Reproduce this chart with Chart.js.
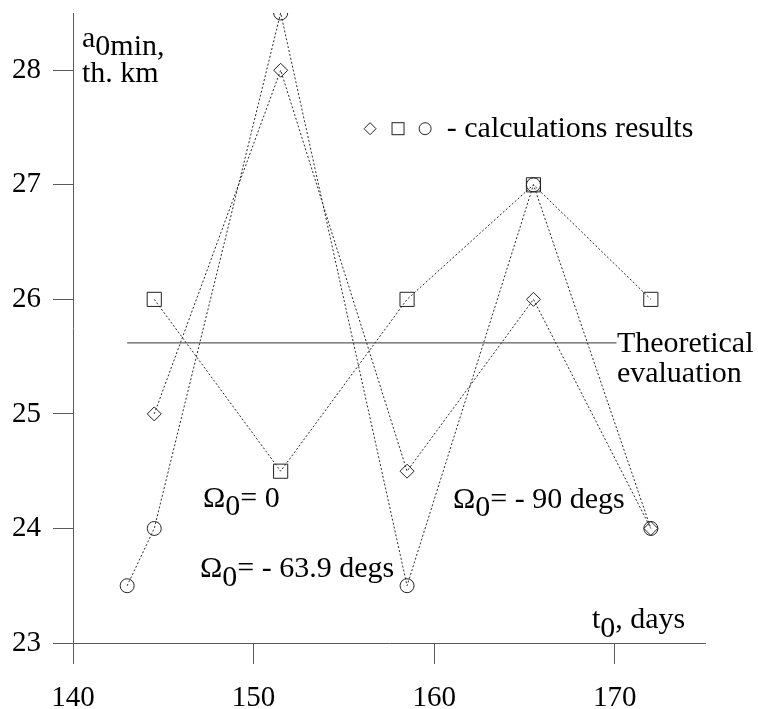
<!DOCTYPE html>
<html>
<head>
<meta charset="utf-8">
<title>a0min vs t0</title>
<script src="https://cdn.jsdelivr.net/npm/chart.js@4/dist/chart.umd.min.js"></script>
<style>
  html, body { margin: 0; padding: 0; background: #fff; }
  #wrap { width: 758px; height: 709px; }
</style>
</head>
<body>
<div id="wrap"><canvas id="grafica" width="758" height="709"></canvas></div>
<script>
/* ── Datos ── */
const tDias      = [144.5, 151.5, 158.5, 165.5, 172];        // diamantes y cuadrados
const tDiasCirc  = [143, 144.5, 151.5, 158.5, 165.5, 172];   // círculos
const valRombo   = [25, 28, 24.5, 26, 24];
const valCuadro  = [26, 24.5, 26, 27, 26];
const valCirculo = [23.5, 24, 28.5, 23.5, 27, 24];
const tTeorico   = [143, 170.1];
const valTeorico = [25.62, 25.62];
const ticksX = [140, 150, 160, 170];
const ticksY = [23, 24, 25, 26, 27, 28];

const FUENTE = "'Liberation Serif', 'Times New Roman', serif";
const GRIS_EJE = '#5a5a5a';

function puntos(xs, ys) {
    return xs.map((x, i) => ({ x: x, y: ys[i] }));
}

// texto con partes desplazadas (subíndices)
function textoPartes(ctx, x, y, partes) {
    let cx = x;
    partes.forEach(p => {
        ctx.fillText(p[0], cx, y + (p[1] || 0));
        cx += ctx.measureText(p[0]).width;
    });
}

const anotaciones = {
    id: 'anotaciones',
    afterDraw(chart) {
        const ctx = chart.ctx;
        const sx = chart.scales.x, sy = chart.scales.y;
        const px = v => sx.getPixelForValue(v);
        const py = v => sy.getPixelForValue(v);
        ctx.save();
        ctx.fillStyle = '#000';
        ctx.textBaseline = 'alphabetic';
        ctx.textAlign = 'left';
        ctx.font = '30px ' + FUENTE;

        // título del eje y
        textoPartes(ctx, px(140.5), py(28.2), [['a', 0], ['0min,', 8]]);
        ctx.fillText('th. km', px(140.5), py(27.9));

        // título del eje x
        textoPartes(ctx, px(168.74), py(23.13), [['t', 0], ['0', 9], [', days', 0]]);

        // evaluación teórica
        ctx.fillText('Theoretical', px(170.12), py(25.54));
        ctx.fillText('evaluation', px(170.12), py(25.28));

        // etiquetas de las series
        textoPartes(ctx, px(147.2), py(24.19), [['\u03A9', 0], ['0', 8], ['= 0', 0]]);
        textoPartes(ctx, px(147.03), py(23.58), [['\u03A9', 0], ['0', 9], ['= - 63.9 degs', 0]]);
        textoPartes(ctx, px(161.04), py(24.18), [['\u03A9', 0], ['0', 8], ['= - 90 degs', 0]]);

        // leyenda de marcadores
        const ly = py(27.49);
        ctx.strokeStyle = '#222';
        ctx.lineWidth = 1;
        let cx = px(156.45);
        ctx.beginPath();
        ctx.moveTo(cx - 6, ly); ctx.lineTo(cx, ly - 6); ctx.lineTo(cx + 6, ly); ctx.lineTo(cx, ly + 6);
        ctx.closePath(); ctx.stroke();
        cx = px(158.0);
        ctx.strokeRect(cx - 6, ly - 6, 12, 12);
        cx = px(159.5);
        ctx.beginPath(); ctx.arc(cx, ly, 6, 0, Math.PI * 2); ctx.stroke();
        ctx.fillText('- calculations results', px(160.7), py(27.42));
        ctx.restore();
    }
};

const serieComun = {
    showLine: true,
    borderColor: '#2a2a2a',
    borderWidth: 1,
    borderDash: [2, 2],
    pointBackgroundColor: 'rgba(0,0,0,0)',
    pointBorderColor: '#222',
    pointBorderWidth: 1,
    tension: 0,
    fill: false
};

new Chart(document.getElementById('grafica'), {
    type: 'scatter',
    data: {
        datasets: [
            Object.assign({}, serieComun, {
                label: 'teorico',
                data: puntos(tTeorico, valTeorico),
                borderDash: [],
                borderColor: '#333',
                pointRadius: 0
            }),
            Object.assign({}, serieComun, {
                label: 'cuadros',
                data: puntos(tDias, valCuadro),
                pointStyle: 'rect',
                pointRadius: 10
            }),
            Object.assign({}, serieComun, {
                label: 'rombos',
                data: puntos(tDias, valRombo),
                pointStyle: 'rectRot',
                pointRadius: 7
            }),
            Object.assign({}, serieComun, {
                label: 'circulos',
                data: puntos(tDiasCirc, valCirculo),
                pointStyle: 'circle',
                pointRadius: 7
            })
        ]
    },
    options: {
        responsive: false,
        animation: false,
        events: [],
        layout: { padding: { top: 13, right: 53, left: 0, bottom: 0 } },
        plugins: {
            legend: { display: false },
            tooltip: { enabled: false }
        },
        scales: {
            x: {
                type: 'linear',
                min: 140,
                max: 175,
                afterBuildTicks: s => { s.ticks = ticksX.map(v => ({ value: v })); },
                afterFit: s => { s.height = 66; s.paddingLeft = 0; s.paddingRight = 0; },
                grid: { drawOnChartArea: false, drawTicks: true, tickLength: 21, color: GRIS_EJE, lineWidth: 1 },
                border: { display: true, color: GRIS_EJE, width: 1 },
                ticks: { color: '#000', font: { family: FUENTE, size: 29 }, padding: 17, maxRotation: 0 }
            },
            y: {
                type: 'linear',
                min: 23,
                max: 28.5,
                afterBuildTicks: s => { s.ticks = ticksY.map(v => ({ value: v })); },
                afterFit: s => { s.width = 73; s.paddingTop = 0; s.paddingBottom = 0; },
                grid: { drawOnChartArea: false, drawTicks: true, tickLength: 20, color: GRIS_EJE, lineWidth: 1 },
                border: { display: true, color: GRIS_EJE, width: 1 },
                ticks: { color: '#000', font: { family: FUENTE, size: 29 }, padding: 12 }
            }
        }
    },
    plugins: [anotaciones]
});
</script>
</body>
</html>
